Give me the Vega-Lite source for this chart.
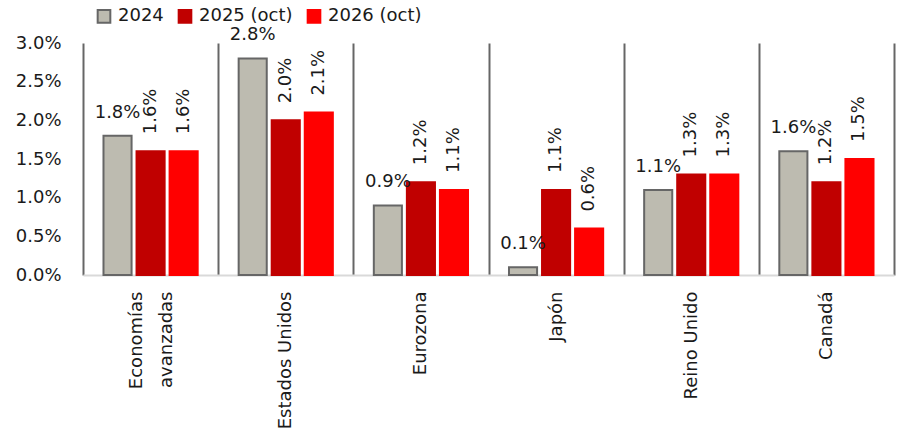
{
  "$schema": "https://vega.github.io/schema/vega-lite/v6.json",
  "autosize": "none",
  "width": 811,
  "height": 232,
  "padding": {"left": 83, "top": 43, "right": 10, "bottom": 172},
  "background": "white",
  "config": {
    "view": {"stroke": null},
    "font": "DejaVu Sans",
    "axis": {"labelFont": "DejaVu Sans", "labelFontSize": 18, "labelColor": "#1a1a1a"},
    "legend": {"labelFont": "DejaVu Sans", "labelFontSize": 18, "labelColor": "#1a1a1a"}
  },
  "data": {
    "values": [
      {"region": "Economías avanzadas", "serie": "2024", "valor": 0.018},
      {"region": "Economías avanzadas", "serie": "2025 (oct)", "valor": 0.016},
      {"region": "Economías avanzadas", "serie": "2026 (oct)", "valor": 0.016},
      {"region": "Estados Unidos", "serie": "2024", "valor": 0.028},
      {"region": "Estados Unidos", "serie": "2025 (oct)", "valor": 0.020},
      {"region": "Estados Unidos", "serie": "2026 (oct)", "valor": 0.021},
      {"region": "Eurozona", "serie": "2024", "valor": 0.009},
      {"region": "Eurozona", "serie": "2025 (oct)", "valor": 0.012},
      {"region": "Eurozona", "serie": "2026 (oct)", "valor": 0.011},
      {"region": "Japón", "serie": "2024", "valor": 0.001},
      {"region": "Japón", "serie": "2025 (oct)", "valor": 0.011},
      {"region": "Japón", "serie": "2026 (oct)", "valor": 0.006},
      {"region": "Reino Unido", "serie": "2024", "valor": 0.011},
      {"region": "Reino Unido", "serie": "2025 (oct)", "valor": 0.013},
      {"region": "Reino Unido", "serie": "2026 (oct)", "valor": 0.013},
      {"region": "Canadá", "serie": "2024", "valor": 0.016},
      {"region": "Canadá", "serie": "2025 (oct)", "valor": 0.012},
      {"region": "Canadá", "serie": "2026 (oct)", "valor": 0.015}
    ]
  },
  "encoding": {
    "x": {
      "field": "region",
      "type": "nominal",
      "sort": null,
      "scale": {"paddingInner": 0, "paddingOuter": 0},
      "axis": {
        "title": null,
        "labelAngle": -90,
        "labelAlign": "right",
        "labelBaseline": "middle",
        "labelPadding": 16,
        "labelLineHeight": 30,
        "labelExpr": "datum.value == 'Economías avanzadas' ? ['Economías', 'avanzadas'] : datum.value",
        "labelOffset": {"condition": {"test": "datum.value == 'Economías avanzadas'", "value": -14}, "value": 0},
        "ticks": false,
        "tickBand": "extent",
        "grid": true,
        "gridColor": "#666666",
        "gridWidth": 2,
        "domainColor": "#D9D9D9",
        "domainWidth": 2
      }
    },
    "xOffset": {
      "field": "serie",
      "type": "nominal",
      "sort": ["2024", "2025 (oct)", "2026 (oct)"],
      "scale": {"paddingInner": 0.15, "paddingOuter": 0.62}
    },
    "y": {
      "field": "valor",
      "type": "quantitative",
      "scale": {"domain": [0, 0.03], "nice": false},
      "axis": {
        "title": null,
        "format": ".1%",
        "values": [0, 0.005, 0.01, 0.015, 0.02, 0.025, 0.03],
        "labelOverlap": false,
        "grid": false,
        "domain": false,
        "ticks": false,
        "labelPadding": 22
      }
    }
  },
  "layer": [
    {
      "mark": {"type": "bar", "strokeWidth": 2},
      "encoding": {
        "fill": {
          "field": "serie",
          "type": "nominal",
          "sort": ["2024", "2025 (oct)", "2026 (oct)"],
          "scale": {"range": ["#BDBBB0", "#C00000", "#FF0000"]},
          "legend": {
            "title": null,
            "orient": "none",
            "direction": "horizontal",
            "legendX": 12,
            "legendY": -36,
            "symbolType": "square",
            "symbolSize": 160,
            "symbolStrokeWidth": 2,
            "labelOffset": 5,
            "columnPadding": 10,
            "encode": {
              "symbols": {
                "update": {
                  "stroke": {"signal": "datum.value == '2024' ? '#666666' : (datum.value == '2025 (oct)' ? '#C00000' : '#FF0000')"},
                  "strokeWidth": {"value": 2}
                }
              }
            }
          }
        },
        "stroke": {
          "field": "serie",
          "type": "nominal",
          "sort": ["2024", "2025 (oct)", "2026 (oct)"],
          "scale": {"range": ["#666666", "#C00000", "#FF0000"]},
          "legend": null
        }
      }
    },
    {
      "transform": [{"filter": "datum.serie == '2024'"}],
      "mark": {"type": "text", "baseline": "bottom", "align": "center", "dy": -14, "fontSize": 18, "color": "#1a1a1a"},
      "encoding": {
        "text": {"field": "valor", "type": "quantitative", "format": ".1%"}
      }
    },
    {
      "transform": [{"filter": "datum.serie != '2024'"}],
      "mark": {"type": "text", "angle": 270, "baseline": "middle", "align": "left", "dx": 17, "fontSize": 18, "color": "#1a1a1a"},
      "encoding": {
        "text": {"field": "valor", "type": "quantitative", "format": ".1%"}
      }
    }
  ]
}
